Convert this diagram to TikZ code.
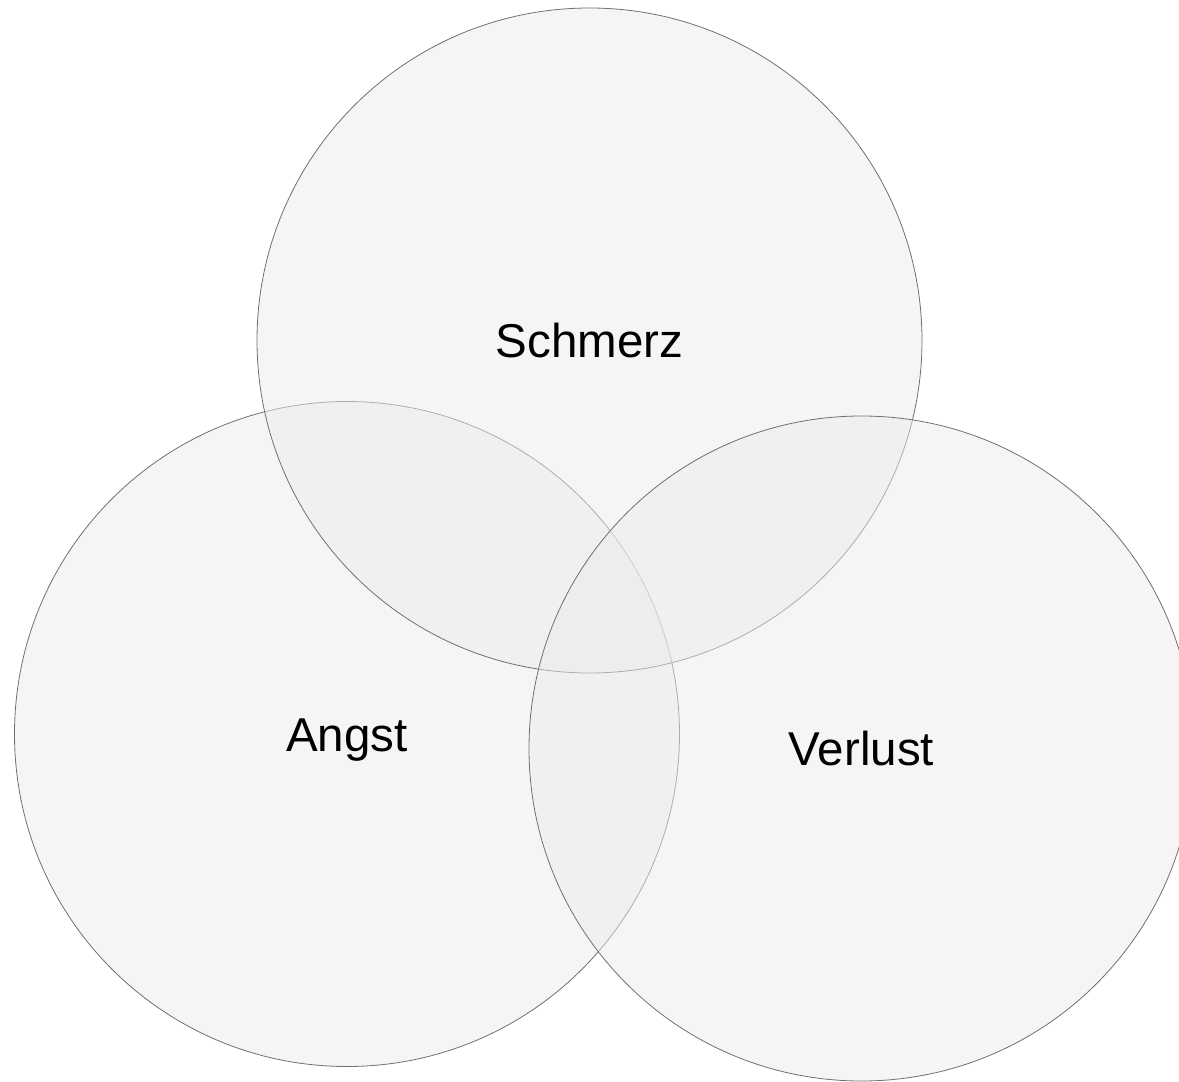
\documentclass[tikz,border=0pt]{standalone}
\usepackage{fontspec}
\setmainfont{Liberation Sans}
\definecolor{vennfill}{HTML}{EBEBEB}
\definecolor{vennline}{HTML}{707070}
\tikzset{venn/.style={circle,draw=vennline,line width=0.8pt,fill=vennfill,fill opacity=0.5,text opacity=1,minimum size=665pt,inner sep=0pt,text height=34pt,text depth=0pt,font=\fontsize{47.5}{57}\selectfont}}

\begin{document}
\begin{tikzpicture}[x=1pt,y=-1pt]
        \useasboundingbox (0,0) rectangle (1179,1082);
        \node[venn] (angst) at (347,734) {Angst};
        \node[venn] (schmerz) at (589.5,340.5) {Schmerz};
        \node[venn] (verlust) at (861.5,748.5) {Verlust};
    \end{tikzpicture}
\end{document}
